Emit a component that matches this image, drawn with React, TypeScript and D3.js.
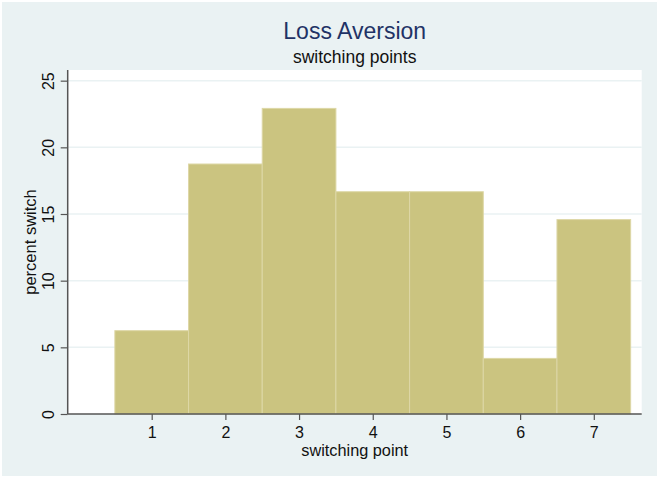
import React, { useEffect, useRef } from "react"
import * as d3 from "d3"

// switching point categories and percent of subjects switching at each
const switchPoints = [1, 2, 3, 4, 5, 6, 7]
const percentSwitch = [6.25, 18.75, 22.92, 16.67, 16.67, 4.17, 14.58]
const yTicks = [0, 5, 10, 15, 20, 25]

const W = 659
const H = 478
const FONT = "'Liberation Sans', Arial, Helvetica, sans-serif"

export default function App() {
    const ref = useRef<SVGSVGElement>(null)

    useEffect(() => {
        const svg = d3.select(ref.current)
        svg.selectAll("*").remove()

        const plot = { left: 67.7, right: 641.7, top: 70, bottom: 414 }

        const x = d3.scaleLinear().domain([-0.14, 7.65]).range([plot.left, plot.right])
        const y = d3.scaleLinear().domain([0, 25.8]).range([plot.bottom, plot.top])

        // graph region
        svg.append("rect")
            .attr("width", W).attr("height", H).attr("fill", "#ffffff")
        svg.append("rect")
            .attr("x", 2).attr("y", 2)
            .attr("width", W - 4).attr("height", H - 4)
            .attr("fill", "#eaf2f3")

        // plot region
        svg.append("rect")
            .attr("x", plot.left).attr("y", plot.top)
            .attr("width", plot.right - plot.left)
            .attr("height", plot.bottom - plot.top)
            .attr("fill", "#ffffff")

        // gridlines
        svg.append("g")
            .selectAll("line")
            .data(yTicks.filter(d => d > 0))
            .enter()
            .append("line")
            .attr("x1", plot.left).attr("x2", plot.right)
            .attr("y1", d => y(d)).attr("y2", d => y(d))
            .attr("stroke", "#eaf2f3")
            .attr("stroke-width", 1.5)

        // bars
        svg.append("g")
            .selectAll("rect")
            .data(switchPoints)
            .enter()
            .append("rect")
            .attr("x", d => x(d - 0.5))
            .attr("y", (d, i) => y(percentSwitch[i]))
            .attr("width", d => x(d + 0.5) - x(d - 0.5))
            .attr("height", (d, i) => y(0) - y(percentSwitch[i]))
            .attr("fill", "#cbc480")
            .attr("stroke", "#ddd7a6")
            .attr("stroke-width", 1)

        // y axis
        const yAxis = svg.append("g")
            .attr("transform", `translate(${plot.left},0)`)
            .call(d3.axisLeft(y).tickValues(yTicks).tickSize(7).tickSizeOuter(0))
        yAxis.select(".domain").remove()
        yAxis.append("line")
            .attr("x1", 0).attr("x2", 0)
            .attr("y1", plot.top).attr("y2", plot.bottom)
            .attr("stroke", "#555555").attr("stroke-width", 1.5)
        yAxis.selectAll(".tick line").attr("stroke", "#555555").attr("stroke-width", 1.2)
        yAxis.selectAll(".tick text")
            .attr("x", 0).attr("dy", null).attr("y", 0)
            .attr("transform", "translate(-14,0) rotate(-90)")
            .attr("text-anchor", "middle")
            .attr("font-family", FONT)
            .attr("font-size", 16)
            .attr("fill", "#111111")

        // x axis
        const xAxis = svg.append("g")
            .attr("transform", `translate(0,${plot.bottom})`)
            .call(d3.axisBottom(x).tickValues(switchPoints).tickSize(6).tickSizeOuter(0))
        xAxis.select(".domain").remove()
        xAxis.append("line")
            .attr("x1", plot.left).attr("x2", plot.right)
            .attr("y1", 0).attr("y2", 0)
            .attr("stroke", "#555555").attr("stroke-width", 1.5)
        xAxis.selectAll(".tick line").attr("stroke", "#555555").attr("stroke-width", 1.2)
        xAxis.selectAll(".tick text")
            .attr("dy", null).attr("y", 24)
            .attr("font-family", FONT)
            .attr("font-size", 16)
            .attr("fill", "#111111")

        const cx = (plot.left + plot.right) / 2

        // titles
        svg.append("text")
            .attr("x", cx).attr("y", 39)
            .attr("text-anchor", "middle")
            .attr("font-family", FONT).attr("font-size", 23)
            .attr("fill", "#1f3366")
            .text("Loss Aversion")

        svg.append("text")
            .attr("x", cx).attr("y", 63)
            .attr("text-anchor", "middle")
            .attr("font-family", FONT).attr("font-size", 17.5)
            .attr("fill", "#111111")
            .text("switching points")

        svg.append("text")
            .attr("x", cx).attr("y", 456)
            .attr("text-anchor", "middle")
            .attr("font-family", FONT).attr("font-size", 16.3)
            .attr("fill", "#111111")
            .text("switching point")

        svg.append("text")
            .attr("transform", `translate(36,${(plot.top + plot.bottom) / 2}) rotate(-90)`)
            .attr("text-anchor", "middle")
            .attr("font-family", FONT).attr("font-size", 16.5)
            .attr("fill", "#111111")
            .text("percent switch")
    }, [])

    return (
        <svg ref={ref} width={W} height={H}
            style={{ position: "absolute", left: 0, top: 0, display: "block" }} />
    )
}
